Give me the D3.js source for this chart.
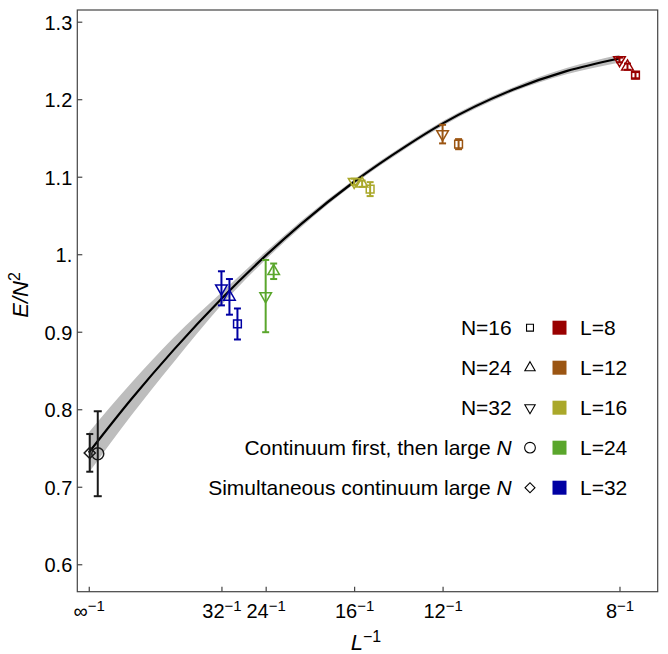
<!DOCTYPE html>
<html>
<head>
<meta charset="utf-8">
<script src="https://cdn.jsdelivr.net/npm/d3@7"></script>
<style>
  body { margin: 0; background: #fff; }
  text { font-family: "Liberation Sans", Arial, Helvetica, sans-serif; }
</style>
</head>
<body>
<div id="chart"></div>
<script>

// lattice sizes and their colours
const latticeL = [8, 12, 16, 24, 32];
const latticeColors = ["#990000", "#9b5512", "#aaa82a", "#5aa62c", "#0000a3"];

// N=16 (squares)
const n16L = [8, 12, 16, 32];
const n16E = [1.231, 1.142, 1.084, 0.910];
const n16Err = [0.004, 0.0065, 0.009, 0.020];

// N=24 (up triangles)
const n24L = [8, 16, 24, 32];
const n24E = [1.242, 1.091, 0.978, 0.945];
const n24Err = [0.004, 0.004, 0.010, 0.023];

// N=32 (down triangles)
const n32L = [8, 12, 16, 24, 32];
const n32E = [1.2506, 1.155, 1.0935, 0.946, 0.956];
const n32Err = [0.003, 0.012, 0.004, 0.0466, 0.022];

// continuum extrapolations at 1/L = 0
const contFirstE = [0.7426];
const contFirstErr = [0.0548];
const simulE = [0.7437];
const simulErr = [0.0243];

// fitted curve and its band
const fitX = [0, 0.01, 0.02, 0.03125, 0.04167, 0.05, 0.0625, 0.075, 0.0833, 0.1, 0.1125, 0.125];
const fitE = [0.744, 0.8128, 0.8766, 0.9426, 0.9982, 1.0389, 1.0935, 1.1405, 1.1685, 1.2125, 1.2362, 1.2525];
const fitBand = [0.026, 0.021, 0.016, 0.008, 0.005, 0.004, 0.003, 0.003, 0.003, 0.003, 0.004, 0.005];

// ticks
const xTickL = [Infinity, 32, 24, 16, 12, 8];
const xTickLabels = ["\u221E", "32", "24", "16", "12", "8"];
const yTicks = [0.6, 0.7, 0.8, 0.9, 1.0, 1.1, 1.2, 1.3];
const yTickLabels = ["0.6", "0.7", "0.8", "0.9", "1.", "1.1", "1.2", "1.3"];

// legend
const legendNames = ["N=16", "N=24", "N=32", "Continuum first, then large ", "Simultaneous continuum large "];
const legendShapes = ["square", "up", "down", "circle", "diamond"];
const legendL = ["L=8", "L=12", "L=16", "L=24", "L=32"];

const width = 668, height = 654;
const plot = { left: 77.3, right: 657.7, top: 10, bottom: 591.7 };

const svg = d3.select("#chart")
  .append("svg")
  .attr("width", width)
  .attr("height", height);

const x = d3.scaleLinear().domain([-0.0027, 0.134]).range([plot.left, plot.right]);
const y = d3.scaleLinear().domain([0.5646, 1.3151]).range([plot.bottom, plot.top]);

const colorOf = d3.scaleOrdinal().domain(latticeL).range(latticeColors);

// marker shapes
function shapePath(shape, scale) {
  scale = scale || 1;
  if (shape === "square") return d3.symbol(d3.symbolSquare, 60 * scale)();
  if (shape === "up" || shape === "down") return d3.symbol(d3.symbolTriangle, 58 * scale)();
  if (shape === "circle") return d3.symbol(d3.symbolCircle, 113 * scale)();
  if (shape === "diamond") return d3.symbol(d3.symbolSquare, 62 * scale)();
  return "";
}
function shapeRotate(shape) {
  if (shape === "down") return 180;
  if (shape === "diamond") return 45;
  return 0;
}

// band + fit line
const fitData = fitX.map((v, i) => ({ x: v, e: fitE[i], b: fitBand[i] }));

svg.append("path")
  .datum(fitData)
  .attr("fill", "#bdbdbd")
  .attr("d", d3.area()
    .x(d => x(d.x))
    .y0(d => y(d.e - d.b))
    .y1(d => y(d.e + d.b))
    .curve(d3.curveMonotoneX));

svg.append("path")
  .datum(fitData)
  .attr("fill", "none")
  .attr("stroke", "#000")
  .attr("stroke-width", 2.2)
  .attr("d", d3.line()
    .x(d => x(d.x))
    .y(d => y(d.e))
    .curve(d3.curveMonotoneX));

// Frame
svg.append("rect")
  .attr("x", plot.left)
  .attr("y", plot.top)
  .attr("width", plot.right - plot.left)
  .attr("height", plot.bottom - plot.top)
  .attr("fill", "none")
  .attr("stroke", "#444")
  .attr("stroke-width", 1.2);

// Y axis
const yAxis = svg.append("g")
  .attr("transform", `translate(${plot.left},0)`)
  .call(d3.axisLeft(y)
    .tickValues(yTicks)
    .tickSizeInner(-5)
    .tickSizeOuter(0)
    .tickPadding(5)
    .tickFormat((d, i) => yTickLabels[i]));
yAxis.select(".domain").remove();
yAxis.selectAll(".tick line").attr("stroke", "#444").attr("stroke-width", 1.2);
yAxis.selectAll(".tick text")
  .attr("font-size", "20px")
  .attr("font-family", "Liberation Sans, Arial, sans-serif")
  .attr("fill", "#000")
  .attr("dy", "0.37em");

// X axis
const xAxis = svg.append("g")
  .attr("transform", `translate(0,${plot.bottom})`)
  .call(d3.axisBottom(x)
    .tickValues(xTickL.map(l => 1 / l))
    .tickSizeInner(-5)
    .tickSizeOuter(0)
    .tickPadding(12)
    .tickFormat(""));
xAxis.select(".domain").remove();
xAxis.selectAll(".tick line").attr("stroke", "#444").attr("stroke-width", 1.2);
xAxis.selectAll(".tick text")
  .attr("font-size", "20px")
  .attr("font-family", "Liberation Sans, Arial, sans-serif")
  .attr("fill", "#000")
  .each(function(d, i) {
    const t = d3.select(this);
    t.append("tspan").text(xTickLabels[i]);
    t.append("tspan").attr("font-size", "15px").attr("dy", "-7").text("\u22121");
  });

// axis labels
const yLab = svg.append("text")
  .attr("transform", "translate(28,295) rotate(-90)")
  .attr("text-anchor", "middle")
  .attr("font-size", "22px");
yLab.append("tspan").attr("font-style", "italic").text("E/N");
yLab.append("tspan").attr("font-size", "16px").attr("dy", "-8").text("2");

const xLab = svg.append("text")
  .attr("x", 366)
  .attr("y", 650)
  .attr("text-anchor", "middle")
  .attr("font-size", "22px");
xLab.append("tspan").attr("font-style", "italic").text("L");
xLab.append("tspan").attr("font-size", "16px").attr("dy", "-8").text("\u22121");

// lattice data points
const series = [
  { L: n16L, E: n16E, err: n16Err, shape: "square", dodge: 16 },
  { L: n24L, E: n24E, err: n24Err, shape: "up", dodge: 8 },
  { L: n32L, E: n32E, err: n32Err, shape: "down", dodge: 0 }
];

function drawPoint(g, px, e, err, shape, color, capW) {
  g.append("line")
    .attr("x1", px).attr("x2", px)
    .attr("y1", y(e - err)).attr("y2", y(e + err))
    .attr("stroke", color).attr("stroke-width", 2);
  [e - err, e + err].forEach(v => {
    g.append("line")
      .attr("x1", px - capW / 2).attr("x2", px + capW / 2)
      .attr("y1", y(v)).attr("y2", y(v))
      .attr("stroke", color).attr("stroke-width", 2);
  });
  g.append("path")
    .attr("d", shapePath(shape))
    .attr("transform", `translate(${px},${y(e)}) rotate(${shapeRotate(shape)})`)
    .attr("fill", "none")
    .attr("stroke", color)
    .attr("stroke-width", 1.5);
}

const points = svg.append("g");
series.forEach(s => {
  s.L.forEach((l, i) => {
    drawPoint(points, x(1 / l) + s.dodge, s.E[i], s.err[i], s.shape, colorOf(l), 7);
  });
});

// continuum points
drawPoint(points, x(0) + 1, simulE[0], simulErr[0], "diamond", "#1a1a1a", 7);
drawPoint(points, x(0) + 9, contFirstE[0], contFirstErr[0], "circle", "#1a1a1a", 8);

// Legend
const legend = svg.append("g");
legendNames.forEach((name, i) => {
  const cy = 327.7 + i * 40;
  const t = legend.append("text")
    .attr("x", 511.7)
    .attr("y", cy + 7.5)
    .attr("text-anchor", "end")
    .attr("font-size", "21px");
  t.append("tspan").text(name);
  if (i >= 3) t.append("tspan").attr("font-style", "italic").text("N");

  legend.append("path")
    .attr("d", shapePath(legendShapes[i], 0.8))
    .attr("transform", `translate(530,${cy}) rotate(${shapeRotate(legendShapes[i])})`)
    .attr("fill", "none")
    .attr("stroke", "#000")
    .attr("stroke-width", 1.1);

  legend.append("rect")
    .attr("x", 552.5)
    .attr("y", cy - 7)
    .attr("width", 14)
    .attr("height", 14)
    .attr("fill", colorOf(latticeL[i]));

  legend.append("text")
    .attr("x", 580)
    .attr("y", cy + 7.5)
    .attr("font-size", "21px")
    .text(legendL[i]);
});

</script>
</body>
</html>
